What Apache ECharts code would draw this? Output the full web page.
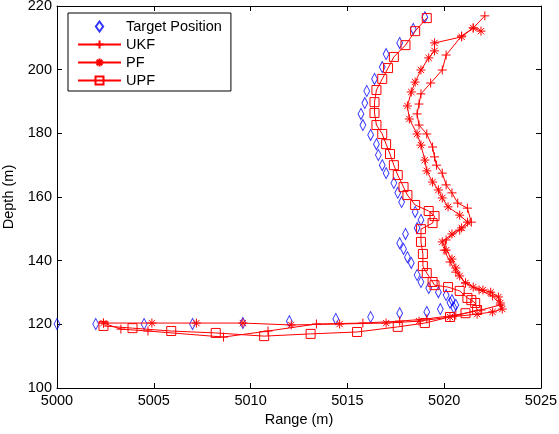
<!DOCTYPE html>
<html>
<head>
<meta charset="utf-8">
<script src="https://cdn.jsdelivr.net/npm/echarts@6/dist/echarts.min.js"></script>
<style>html,body{margin:0;padding:0;background:#fff}#c{width:559px;height:434px}</style>
</head>
<body>
<div id="c"></div>
<script>
var xTicks = [5000, 5005, 5010, 5015, 5020, 5025];
var yTicks = [100, 120, 140, 160, 180, 200, 220];
var seriesNames = ['Target Position', 'UKF', 'PF', 'UPF'];

var targetPos = [[5000.0,120.1],[5002.0,120.1],[5004.5,120.1],[5007.0,120.1],[5009.6,120.4],[5012.0,121.0],[5014.4,121.7],[5016.2,122.3],[5017.7,123.5],[5019.1,123.9],[5019.8,124.8],[5020.5,125.2],[5020.6,126.1],[5020.3,126.8],[5020.4,127.6],[5020.1,129.2],[5019.7,130.1],[5019.2,131.4],[5018.8,133.3],[5018.6,135.5],[5018.3,139.3],[5018.1,141.1],[5017.9,143.7],[5017.7,145.5],[5018.0,148.4],[5018.6,150.3],[5018.8,152.8],[5018.5,155.3],[5017.8,158.4],[5017.6,161.3],[5017.4,164.4],[5017.0,167.5],[5016.8,170.0],[5016.6,173.2],[5016.5,176.6],[5016.2,179.5],[5015.8,182.6],[5015.7,186.1],[5015.9,189.5],[5016.0,193.3],[5016.4,197.1],[5016.8,200.8],[5017.0,204.9],[5017.7,208.4],[5018.4,212.8],[5019.0,216.5]];

var ukf = [[5002.4,120.4],[5003.3,118.5],[5004.7,117.9],[5008.6,116.0],[5010.9,117.9],[5013.4,120.1],[5015.8,120.4],[5017.7,121.0],[5019.1,121.7],[5020.6,122.9],[5021.9,124.5],[5022.9,126.1],[5022.5,128.9],[5021.8,130.8],[5021.1,133.0],[5020.6,136.4],[5020.3,139.6],[5020.0,143.3],[5020.1,146.5],[5020.8,149.6],[5021.4,152.1],[5021.2,156.5],[5020.7,158.1],[5020.4,161.3],[5020.1,163.8],[5019.9,167.5],[5019.6,170.0],[5019.5,172.6],[5019.4,175.7],[5019.1,179.8],[5018.7,182.6],[5018.6,186.1],[5018.7,189.2],[5018.8,192.4],[5019.3,195.8],[5019.9,199.9],[5020.1,204.6],[5020.9,210.6],[5021.5,213.1],[5022.1,216.9]];

var pf = [[5002.4,120.4],[5004.9,120.4],[5007.2,120.4],[5009.6,120.4],[5012.1,119.8],[5014.6,120.1],[5017.0,120.4],[5018.7,121.0],[5020.3,122.3],[5021.7,123.2],[5022.5,123.9],[5023.0,124.8],[5022.9,126.7],[5022.8,128.6],[5022.4,130.1],[5022.0,130.8],[5021.5,131.7],[5021.1,133.0],[5020.8,135.2],[5020.6,137.7],[5020.4,140.5],[5020.1,143.3],[5019.9,145.9],[5020.4,148.4],[5020.9,150.3],[5021.2,152.1],[5020.8,154.3],[5020.2,156.9],[5019.9,159.7],[5019.7,162.2],[5019.4,164.7],[5019.1,168.2],[5019.0,171.6],[5018.8,176.3],[5018.6,179.8],[5018.2,184.5],[5018.1,188.6],[5018.3,193.0],[5018.5,196.1],[5018.8,199.9],[5019.2,203.7],[5019.5,205.9],[5019.5,208.4],[5020.9,210.3],[5021.5,213.1],[5021.9,212.1]];

var upf = [[5002.4,119.5],[5003.9,118.8],[5005.9,117.9],[5008.2,117.3],[5010.7,116.3],[5013.1,117.0],[5015.5,117.6],[5017.6,119.2],[5019.0,120.4],[5020.3,122.3],[5021.1,123.5],[5021.7,124.5],[5021.6,126.7],[5021.4,127.6],[5021.2,128.3],[5020.8,130.5],[5020.2,131.7],[5019.5,132.3],[5019.4,133.3],[5019.1,136.1],[5018.9,138.3],[5018.9,142.1],[5018.8,145.9],[5018.8,149.9],[5019.4,151.8],[5019.5,154.0],[5019.2,155.6],[5018.5,157.5],[5018.1,160.6],[5017.9,163.1],[5017.6,166.9],[5017.4,170.0],[5017.2,173.5],[5017.0,176.6],[5016.8,179.8],[5016.5,182.6],[5016.4,186.4],[5016.4,189.8],[5016.5,193.6],[5016.8,197.1],[5017.1,200.5],[5017.4,204.0],[5018.0,207.7],[5018.5,212.1],[5019.1,216.2]];

var FONT = 'Liberation Sans, Arial, Helvetica, sans-serif';
var FS = 14.5;
var PLUS = 'path://M5,0L5,10M0,5L10,5';
var STAR = 'path://M5,0L5,10M0,5L10,5M1.5,1.5L8.5,8.5M8.5,1.5L1.5,8.5';
var SQUARE = 'path://M0,0L10,0L10,10L0,10Z';
var DIAMOND = 'path://M4,0L8,5.5L4,11L0,5.5Z';

var chart = echarts.init(document.getElementById('c'), null, {renderer: 'canvas'});

function xAx(pos, show) {
  return {
    type: 'value', position: pos, min: xTicks[0], max: xTicks[xTicks.length-1], interval: 5,
    name: show ? 'Range (m)' : '', nameLocation: 'middle', nameGap: 24,
    nameTextStyle: {color: '#000', fontFamily: FONT, fontSize: FS},
    axisLine: {show: true, onZero: false, lineStyle: {color: '#000', width: 1}},
    axisTick: {show: true, inside: true, length: 5, lineStyle: {color: '#000'}},
    axisLabel: {show: show, color: '#000', fontFamily: FONT, fontSize: FS, margin: 5,
      formatter: function (v) { return String(v); }},
    splitLine: {show: false}
  };
}
function yAx(pos, show) {
  return {
    type: 'value', position: pos, min: yTicks[0], max: yTicks[yTicks.length-1], interval: 20,
    name: show ? 'Depth (m)' : '', nameLocation: 'middle', nameGap: 34,
    nameTextStyle: {color: '#000', fontFamily: FONT, fontSize: FS},
    axisLine: {show: true, onZero: false, lineStyle: {color: '#000', width: 1}},
    axisTick: {show: true, inside: true, length: 5, lineStyle: {color: '#000'}},
    axisLabel: {show: show, color: '#000', fontFamily: FONT, fontSize: FS, margin: 5,
      formatter: function (v) { return String(v); }},
    splitLine: {show: false}
  };
}

function lineSeries(name, data, sym, size) {
  return {
    name: name, type: 'line', data: data, xAxisIndex: 0, yAxisIndex: 0,
    symbol: sym, symbolSize: size, showSymbol: true, showAllSymbol: true,
    lineStyle: {color: '#ff0000', width: 1},
    itemStyle: {color: 'none', borderColor: '#ff0000', borderWidth: 1},
    emphasis: {disabled: true}, animation: false
  };
}

chart.setOption({
  animation: false,
  backgroundColor: '#fff',
  grid: {left: 57, right: 18, top: 6, bottom: 46, containLabel: false, outerBoundsMode: 'none'},
  xAxis: [xAx('bottom', true), xAx('top', false)],
  yAxis: [yAx('left', true), yAx('right', false)],
  legend: {
    orient: 'vertical', left: 68, top: 13,
    padding: [6, 9, 3, 9], itemGap: 3, itemWidth: 43, itemHeight: 10,
    backgroundColor: '#fff', borderColor: '#000', borderWidth: 1, borderRadius: 0,
    textStyle: {color: '#000', fontFamily: FONT, fontSize: FS},
    data: seriesNames
  },
  series: [
    {
      name: seriesNames[0], type: 'scatter', data: targetPos,
      symbol: DIAMOND, symbolSize: [8, 11], symbolKeepAspect: true,
      itemStyle: {color: 'none', borderColor: '#0000ff', borderWidth: 1},
      emphasis: {disabled: true}
    },
    lineSeries(seriesNames[1], ukf, PLUS, 9),
    lineSeries(seriesNames[2], pf, STAR, 9),
    lineSeries(seriesNames[3], upf, SQUARE, 9)
  ]
});
</script>
</body>
</html>
